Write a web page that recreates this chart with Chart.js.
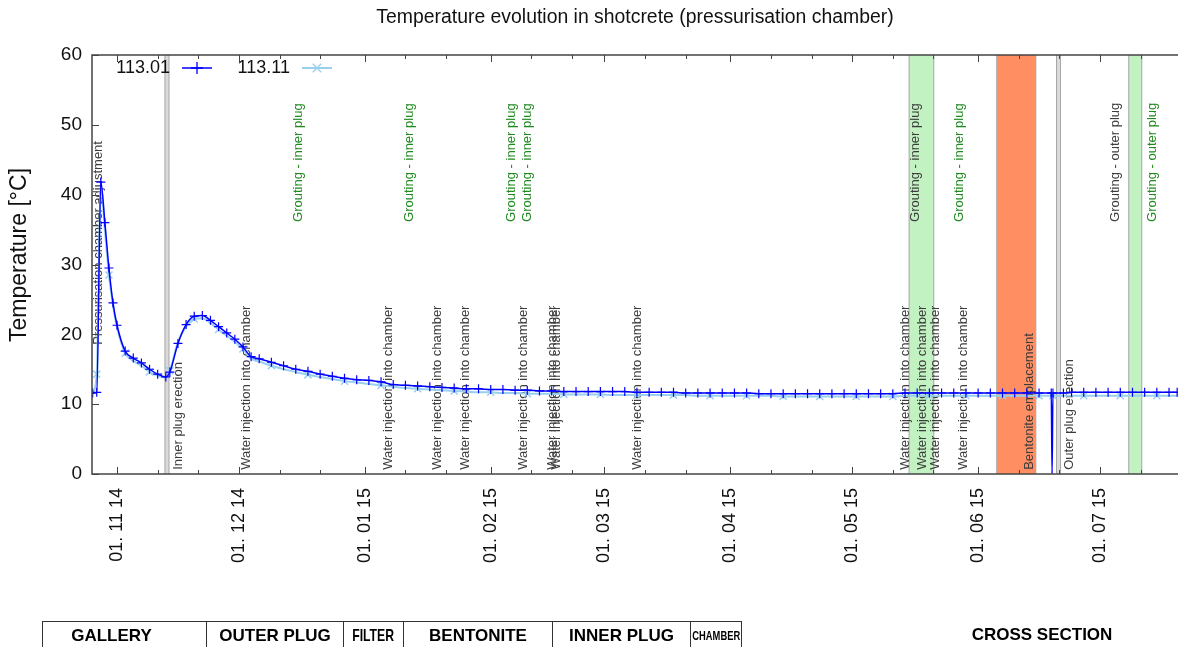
<!DOCTYPE html>
<html>
<head>
<meta charset="utf-8">
<script src="https://cdn.jsdelivr.net/npm/chart.js@4.4.0/dist/chart.umd.min.js"></script>
<style>
  html, body { margin: 0; padding: 0; background: #fff; }
  #wrap { position: relative; width: 1178px; height: 647px; overflow: hidden; font-family: 'Liberation Sans', Arial, sans-serif; }
  #chart { position: absolute; left: 0; top: 0; }
  .sect { position: absolute; top: 621px; left: 42px; display: flex; border-top: 1px solid #333; border-left: 1px solid #333; }
  .sect div { height: 30px; line-height: 28px; display: flex; justify-content: center; font-weight: bold; font-size: 17px; color: #000; border-right: 1px solid #333; box-sizing: border-box; white-space: nowrap; overflow: hidden; }
  .sect .narrow span { display: inline-block; transform: scaleX(0.72); }
  .cross { position: absolute; top: 621px; left: 960px; width: 164px; line-height: 28px; text-align: center; font-weight: bold; font-size: 17px; color: #000; }
</style>
</head>
<body>
<div id="wrap">
  <canvas id="chart" width="1178" height="647"></canvas>
  <div class="sect">
    <div style="width:164px;padding-right:26px">GALLERY</div>
    <div style="width:137px">OUTER PLUG</div>
    <div class="narrow" style="width:60px"><span>FILTER</span></div>
    <div style="width:149px">BENTONITE</div>
    <div style="width:138px">INNER PLUG</div>
    <div class="narrow" style="width:51px;font-size:13px"><span>CHAMBER</span></div>
  </div>
  <div class="cross">CROSS SECTION</div>
</div>
<script>
// Datos
const dates = [
  '2014-10-26', '2014-10-27', '2014-10-28', '2014-10-29', '2014-10-30', '2014-10-31',
  '2014-11-01', '2014-11-03', '2014-11-05', '2014-11-07', '2014-11-09', '2014-11-11',
  '2014-11-13', '2014-11-14', '2014-11-16', '2014-11-18', '2014-11-20', '2014-11-22',
  '2014-11-24', '2014-11-26', '2014-11-28', '2014-11-30', '2014-12-02', '2014-12-04',
  '2014-12-06', '2014-12-09', '2014-12-12', '2014-12-15', '2014-12-18', '2014-12-21',
  '2014-12-24', '2014-12-27', '2014-12-30', '2015-01-02', '2015-01-05', '2015-01-08',
  '2015-01-11', '2015-01-14', '2015-01-17', '2015-01-20', '2015-01-23', '2015-01-26',
  '2015-01-29', '2015-02-01', '2015-02-04', '2015-02-07', '2015-02-10', '2015-02-13',
  '2015-02-16', '2015-02-19', '2015-02-22', '2015-02-25', '2015-02-28', '2015-03-03',
  '2015-03-06', '2015-03-09', '2015-03-12', '2015-03-15', '2015-03-18', '2015-03-21',
  '2015-03-24', '2015-03-27', '2015-03-30', '2015-04-02', '2015-04-05', '2015-04-08',
  '2015-04-11', '2015-04-14', '2015-04-17', '2015-04-20', '2015-04-23', '2015-04-26',
  '2015-04-29', '2015-05-02', '2015-05-05', '2015-05-08', '2015-05-11', '2015-05-14',
  '2015-05-17', '2015-05-20', '2015-05-23', '2015-05-26', '2015-05-29', '2015-06-01',
  '2015-06-04', '2015-06-07', '2015-06-10', '2015-06-13', '2015-06-16', '2015-06-19T00:00',
  '2015-06-19T05:00', '2015-06-19T10:00', '2015-06-22', '2015-06-24', '2015-06-27', '2015-06-30',
  '2015-07-03', '2015-07-06', '2015-07-09', '2015-07-12', '2015-07-15', '2015-07-18',
  '2015-07-20'
];

const temp11301 = [
  11.6, 11.7, 41.8, 36.0, 29.5, 24.5,
  21.3, 17.6, 16.6, 15.9, 15.0, 14.3,
  13.9, 14.6, 18.7, 21.4, 22.6, 22.7,
  22.0, 21.1, 20.2, 19.3, 18.2, 16.8,
  16.5, 16.0, 15.5, 15.0, 14.7, 14.3,
  14.0, 13.7, 13.5, 13.4, 13.2, 12.8,
  12.7, 12.6, 12.5, 12.4, 12.3, 12.2,
  12.2, 12.1, 12.1, 12.0, 12.0, 11.9,
  11.9, 11.8, 11.8, 11.8, 11.8, 11.8,
  11.8, 11.7, 11.7, 11.7, 11.7, 11.6,
  11.6, 11.6, 11.6, 11.6, 11.6, 11.5,
  11.5, 11.5, 11.5, 11.5, 11.5, 11.5,
  11.5, 11.5, 11.5, 11.5, 11.5, 11.6,
  11.6, 11.6, 11.6, 11.6, 11.6, 11.6,
  11.6, 11.6, 11.6, 11.6, 11.6, 11.6,
  0.0, 11.6, 11.6, 11.7, 11.7, 11.7,
  11.7, 11.7, 11.7, 11.7, 11.7, 11.7,
  11.7
];

const temp11311 = [
  11.5, 14.3, 41.2, 35.0, 28.5, 24.2,
  21.0, 17.3, 16.2, 15.5, 14.6, 14.1,
  13.8, 14.8, 18.9, 21.1, 22.2, 22.3,
  21.6, 20.7, 19.8, 18.9, 17.9, 16.5,
  16.1, 15.5, 15.0, 14.6, 14.2, 13.9,
  13.6, 13.3, 13.1, 12.9, 12.7, 12.5,
  12.3, 12.2, 12.1, 12.0, 11.9, 11.8,
  11.7, 11.7, 11.6, 11.6, 11.5, 11.5,
  11.5, 11.4, 11.4, 11.4, 11.4, 11.3,
  11.3, 11.3, 11.3, 11.3, 11.3, 11.3,
  11.2, 11.2, 11.2, 11.2, 11.2, 11.2,
  11.2, 11.1, 11.1, 11.1, 11.1, 11.1,
  11.1, 11.1, 11.1, 11.1, 11.1, 11.2,
  11.2, 11.2, 11.2, 11.2, 11.2, 11.2,
  11.2, 11.2, 11.2, 11.2, 11.2, 11.2,
  11.2, 11.2, 11.2, 11.2, 11.2, 11.2,
  11.2, 11.2, 11.2, 11.2, 11.2, 11.2,
  11.2
];

// Ticks del eje x (inicio de mes; menores el 11 y el 21)
const monthTicks = ['2014-11', '2014-12', '2015-01', '2015-02', '2015-03', '2015-04', '2015-05', '2015-06', '2015-07'];
const minorTickDays = ['11', '21'];

// Eventos
const waterInjectionDates = [
  '2014-12-02T19:00', '2015-01-06T17:00', '2015-01-18T19:00', '2015-01-25T17:00',
  '2015-02-08T23:00', '2015-02-16T02:00', '2015-02-17T07:00', '2015-03-09T00:00',
  '2015-05-14T00:00', '2015-05-18T05:00', '2015-05-21T10:00', '2015-05-28T07:00'
];
const groutingInnerDates = ['2014-12-15T14:00', '2015-01-11T22:00', '2015-02-06T05:00', '2015-02-09T22:00', '2015-05-27T07:00'];
const groutingInnerAltDates = ['2015-05-16T12:00'];
const groutingOuterAltDates = ['2015-07-04T22:00'];
const groutingOuterDates = ['2015-07-13T19:00'];
const groutingBandStart = ['2015-05-15T00:00', '2015-07-08T02:00'];
const groutingBandEnd = ['2015-05-21T02:00', '2015-07-11T07:00'];
const bentoniteBand = ['2015-06-05T14:00', '2015-06-15T05:00'];
const erectionDates = ['2014-11-13T07:00', '2015-06-20T19:00'];
const milestoneTexts = ['Pressurisation chamber adjustment', 'Inner plug erection', 'Bentonite emplacement', 'Outer plug erection'];
const milestoneDates = ['2014-10-27T07:00', '2014-11-16T00:00', '2015-06-13T18:00', '2015-06-23T14:00'];

const TITLE = 'Temperature evolution in shotcrete (pressurisation chamber)';
const Y_TITLE = 'Temperature [°C]';
const DAY = 86400000;
const toDay = s => Date.parse(s.includes('T') ? s + 'Z' : s) / DAY;
const FONT = "'Liberation Sans', Arial, sans-serif";
const darkBlue = '#0000ff';
const lightBlue = '#98d0ee';
const greyText = '#3c3c3c';
const greenText = '#1f8a1f';

const xMin = toDay('2014-10-25T20:00');
const xMax = toDay('2015-07-20T05:00');

const tickDays = [];
monthTicks.forEach(m => {
  tickDays.push(toDay(m + '-01'));
  minorTickDays.forEach(d => tickDays.push(toDay(m + '-' + d)));
});

const pad2 = n => String(n).padStart(2, '0');

// Bandas, líneas y textos de eventos
const eventsPlugin = {
  id: 'events',
  beforeDatasetsDraw(chart) {
    const { ctx, chartArea: a, scales: { x, y } } = chart;
    ctx.save();
    ctx.beginPath();
    ctx.rect(a.left, a.top, a.right - a.left, a.bottom - a.top);
    ctx.clip();

    const band = (s, e, fill) => {
      const x0 = x.getPixelForValue(s), x1 = x.getPixelForValue(e);
      ctx.fillStyle = fill;
      ctx.fillRect(x0, a.top, x1 - x0, a.bottom - a.top);
      ctx.strokeStyle = '#a6a6a6';
      ctx.lineWidth = 1;
      ctx.beginPath();
      ctx.moveTo(x0, a.top); ctx.lineTo(x0, a.bottom);
      ctx.moveTo(x1, a.top); ctx.lineTo(x1, a.bottom);
      ctx.stroke();
    };
    groutingBandStart.forEach((s, i) => band(toDay(s), toDay(groutingBandEnd[i]), '#c2f2c2'));
    band(toDay(bentoniteBand[0]), toDay(bentoniteBand[1]), '#ff8f62');
    erectionDates.forEach(d => band(toDay(d) - 0.5, toDay(d) + 0.5, '#dadada'));

    const vtext = (d, txt, level, color) => {
      ctx.save();
      ctx.translate(x.getPixelForValue(toDay(d)), y.getPixelForValue(level));
      ctx.rotate(-Math.PI / 2);
      ctx.font = '13px ' + FONT;
      ctx.fillStyle = color;
      ctx.textAlign = 'left';
      ctx.textBaseline = 'middle';
      ctx.fillText(txt, 0, 0);
      ctx.restore();
    };
    waterInjectionDates.forEach(d => vtext(d, 'Water injection into chamber', 0.6, greyText));
    groutingInnerDates.forEach(d => vtext(d, 'Grouting - inner plug', 36.1, greenText));
    groutingInnerAltDates.forEach(d => vtext(d, 'Grouting - inner plug', 36.1, greyText));
    groutingOuterAltDates.forEach(d => vtext(d, 'Grouting - outer plug', 36.1, greyText));
    groutingOuterDates.forEach(d => vtext(d, 'Grouting - outer plug', 36.1, greenText));
    milestoneTexts.forEach((t, i) => vtext(milestoneDates[i], t, i === 0 ? 18.5 : 0.6, greyText));
    ctx.restore();
  }
};

// Títulos, marco, ticks hacia dentro y leyenda
const framePlugin = {
  id: 'frame',
  afterDatasetsDraw(chart) {
    const { ctx, chartArea: a, scales: { x, y } } = chart;
    ctx.save();
    ctx.fillStyle = '#111';
    ctx.textAlign = 'center';
    ctx.textBaseline = 'middle';
    ctx.font = '19.4px ' + FONT;
    ctx.fillText(TITLE, (a.left + a.right) / 2, 18);
    ctx.save();
    ctx.translate(20, 255);
    ctx.rotate(-Math.PI / 2);
    ctx.font = '23px ' + FONT;
    ctx.fillText(Y_TITLE, 0, 0);
    ctx.restore();

    ctx.strokeStyle = '#444';
    ctx.lineWidth = 1;
    ctx.beginPath();
    x.ticks.forEach(t => {
      const px = Math.round(x.getPixelForValue(t.value)) + 0.5;
      const len = t.label ? 7 : 4;
      ctx.moveTo(px, a.bottom); ctx.lineTo(px, a.bottom - len);
      ctx.moveTo(px, a.top); ctx.lineTo(px, a.top + len);
    });
    y.ticks.forEach(t => {
      const py = Math.round(y.getPixelForValue(t.value)) + 0.5;
      ctx.moveTo(a.left, py); ctx.lineTo(a.left + 7, py);
    });
    ctx.stroke();
    ctx.lineWidth = 1.5;
    ctx.strokeRect(a.left, a.top, a.right - a.left + 4, a.bottom - a.top);

    // leyenda
    const ly = a.top + 13;
    ctx.font = '18px ' + FONT;
    ctx.textAlign = 'right';
    chart.data.datasets.forEach((ds, i) => {
      const tx = a.left + 78 + i * 120;
      ctx.fillText(ds.label, tx, ly);
      const x0 = tx + 12, x1 = tx + 42;
      ctx.strokeStyle = ds.borderColor;
      ctx.lineWidth = ds.borderWidth;
      ctx.beginPath(); ctx.moveTo(x0, ly); ctx.lineTo(x1, ly); ctx.stroke();
      ctx.lineWidth = 1.3;
      Chart.helpers.drawPoint(ctx, { pointStyle: ds.pointStyle, radius: 6, borderWidth: 1.3, rotation: 0 }, (x0 + x1) / 2, ly);
    });
    ctx.restore();
  }
};

new Chart(document.getElementById('chart'), {
  type: 'line',
  data: {
    datasets: [
      {
        label: '113.01',
        data: dates.map((d, i) => ({ x: toDay(d), y: temp11301[i] })),
        borderColor: darkBlue,
        backgroundColor: darkBlue,
        borderWidth: 1.5,
        pointStyle: 'cross',
        pointRadius: ctx => (ctx.raw && ctx.raw.y === 0 ? 0 : 4.5),
        pointBorderWidth: 1.2,
        cubicInterpolationMode: 'monotone',
        fill: false
      },
      {
        label: '113.11',
        data: dates.map((d, i) => ({ x: toDay(d), y: temp11311[i] })),
        borderColor: lightBlue,
        backgroundColor: lightBlue,
        borderWidth: 2,
        pointStyle: 'crossRot',
        pointRadius: ctx => (ctx.dataIndex % 3 === 1 ? 5 : 0),
        pointBorderWidth: 1.5,
        cubicInterpolationMode: 'monotone',
        fill: false
      }
    ]
  },
  options: {
    responsive: false,
    animation: false,
    layout: { autoPadding: false, padding: { left: 0, right: 0, top: 55, bottom: 0 } },
    plugins: {
      legend: { display: false },
      tooltip: { enabled: false },
      title: { display: false }
    },
    scales: {
      x: {
        type: 'linear',
        min: xMin,
        max: xMax,
        grid: { display: false, drawTicks: false },
        border: { display: false },
        afterBuildTicks: scale => { scale.ticks = tickDays.filter(v => v <= xMax).map(v => ({ value: v })); },
        afterFit: scale => { scale.height = 173; scale.paddingLeft = 0; scale.paddingRight = 0; },
        ticks: {
          autoSkip: false,
          maxRotation: 90,
          minRotation: 90,
          padding: 14,
          color: '#111',
          font: { family: FONT, size: 18 },
          callback: v => {
            const d = new Date(Math.round(v * DAY));
            if (d.getUTCDate() !== 1) return '';
            return '01. ' + pad2(d.getUTCMonth() + 1) + ' ' + String(d.getUTCFullYear()).slice(2);
          }
        }
      },
      y: {
        min: 0,
        max: 60,
        grid: { display: false, drawTicks: false },
        border: { display: false },
        afterFit: scale => { scale.width = 92; scale.paddingTop = 0; scale.paddingBottom = 0; },
        ticks: {
          stepSize: 10,
          padding: 10,
          color: '#111',
          font: { family: FONT, size: 19 }
        }
      }
    }
  },
  plugins: [eventsPlugin, framePlugin]
});
</script>
</body>
</html>
